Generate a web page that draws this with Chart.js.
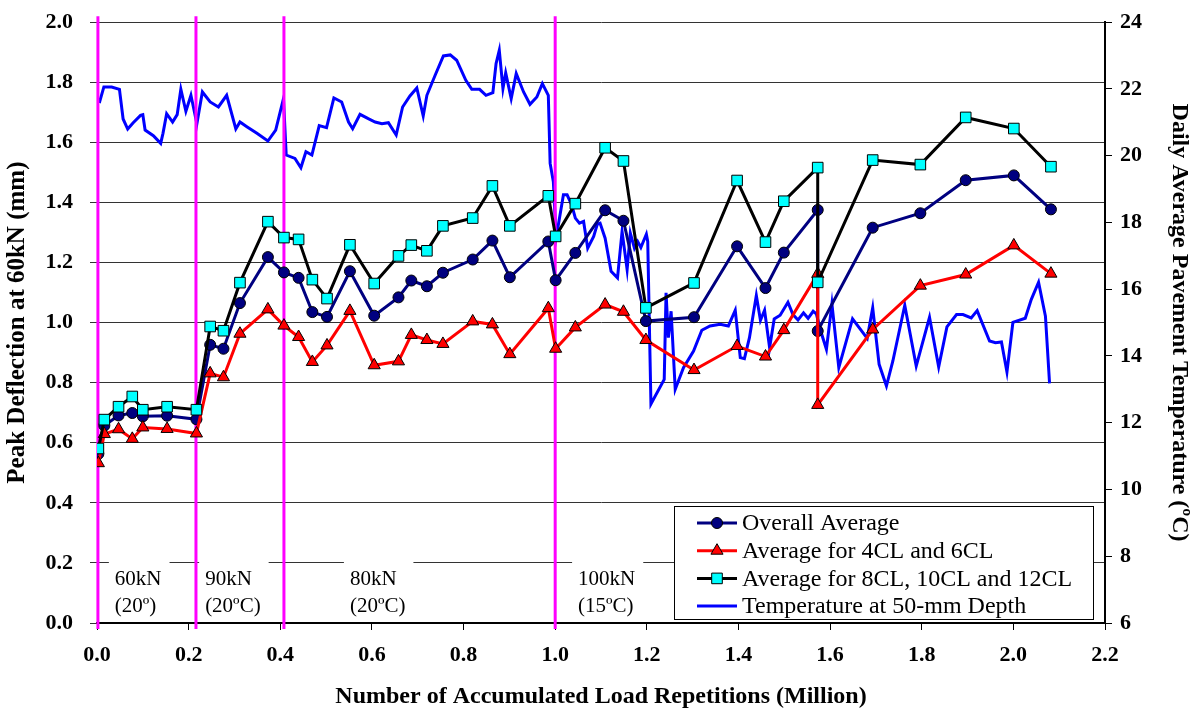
<!DOCTYPE html>
<html>
<head>
<meta charset="utf-8">
<title>Peak Deflection and Pavement Temperature</title>
<script src="https://cdn.jsdelivr.net/npm/chart.js@4.4.0/dist/chart.umd.min.js"></script>
<style>
  html, body { margin: 0; padding: 0; background: #fff; overflow: hidden; }
  #wrap { width: 1194px; height: 723px; position: absolute; left: 0; top: -8px; }
</style>
</head>
<body>
<div id="wrap"><canvas id="myChart"></canvas></div>
<script>
// load repetitions (million) at each deflection test
const loadReps = [0.003, 0.016, 0.047, 0.077, 0.100, 0.153, 0.217, 0.247, 0.276, 0.312, 0.373, 0.408, 0.440, 0.470, 0.502, 0.552, 0.605, 0.658, 0.686, 0.720, 0.755, 0.820, 0.863, 0.901, 0.985, 1.001, 1.044, 1.109, 1.149, 1.198, 1.303, 1.397, 1.459, 1.499, 1.573, 1.573, 1.693, 1.797, 1.896, 2.001, 2.082];
const overallAvg = [0.563, 0.657, 0.691, 0.699, 0.688, 0.690, 0.678, 0.926, 0.913, 1.065, 1.218, 1.167, 1.149, 1.035, 1.019, 1.171, 1.023, 1.084, 1.140, 1.121, 1.166, 1.210, 1.273, 1.151, 1.270, 1.141, 1.232, 1.374, 1.339, 1.005, 1.018, 1.254, 1.115, 1.233, 1.375, 0.972, 1.316, 1.364, 1.474, 1.490, 1.377];
const avg4and6 = [0.532, 0.629, 0.645, 0.613, 0.651, 0.646, 0.631, 0.831, 0.818, 0.963, 1.044, 0.990, 0.952, 0.869, 0.924, 1.039, 0.858, 0.871, 0.959, 0.942, 0.929, 1.004, 0.994, 0.895, 1.048, 0.913, 0.984, 1.060, 1.036, 0.942, 0.842, 0.922, 0.887, 0.975, 1.162, 0.726, 0.977, 1.123, 1.160, 1.257, 1.163];
const avg8to12 = [0.581, 0.677, 0.720, 0.754, 0.710, 0.720, 0.710, 0.987, 0.973, 1.133, 1.336, 1.283, 1.277, 1.143, 1.080, 1.259, 1.130, 1.222, 1.258, 1.239, 1.322, 1.348, 1.455, 1.322, 1.422, 1.287, 1.396, 1.582, 1.538, 1.049, 1.132, 1.473, 1.268, 1.404, 1.516, 1.134, 1.541, 1.526, 1.683, 1.646, 1.519];

// daily temperature at 50 mm depth
const tempReps = [0.005, 0.015, 0.032, 0.049, 0.057, 0.067, 0.079, 0.095, 0.100, 0.105, 0.123, 0.139, 0.144, 0.152, 0.165, 0.175, 0.183, 0.194, 0.205, 0.218, 0.230, 0.247, 0.265, 0.283, 0.303, 0.312, 0.327, 0.349, 0.373, 0.390, 0.407, 0.413, 0.432, 0.445, 0.456, 0.469, 0.485, 0.501, 0.517, 0.534, 0.549, 0.558, 0.574, 0.592, 0.607, 0.622, 0.636, 0.653, 0.667, 0.683, 0.698, 0.712, 0.720, 0.738, 0.756, 0.771, 0.785, 0.805, 0.818, 0.835, 0.849, 0.864, 0.871, 0.878, 0.886, 0.892, 0.904, 0.915, 0.931, 0.945, 0.960, 0.972, 0.985, 0.989, 0.996, 1.002, 1.018, 1.026, 1.036, 1.044, 1.053, 1.062, 1.071, 1.084, 1.092, 1.098, 1.109, 1.122, 1.136, 1.146, 1.157, 1.164, 1.173, 1.180, 1.187, 1.199, 1.202, 1.209, 1.238, 1.242, 1.247, 1.253, 1.262, 1.280, 1.302, 1.320, 1.338, 1.360, 1.378, 1.393, 1.404, 1.413, 1.424, 1.439, 1.448, 1.457, 1.468, 1.478, 1.491, 1.508, 1.519, 1.530, 1.542, 1.552, 1.563, 1.570, 1.579, 1.592, 1.604, 1.619, 1.649, 1.681, 1.693, 1.707, 1.723, 1.737, 1.763, 1.788, 1.797, 1.817, 1.837, 1.855, 1.876, 1.890, 1.908, 1.921, 1.948, 1.961, 1.974, 1.986, 1.999, 2.026, 2.039, 2.055, 2.070, 2.079];
const tempVals = [21.58, 22.06, 22.06, 21.99, 21.10, 20.80, 20.99, 21.21, 21.23, 20.77, 20.60, 20.37, 20.67, 21.26, 21.01, 21.23, 21.99, 21.33, 21.81, 20.96, 21.91, 21.61, 21.46, 21.81, 20.80, 21.01, 20.87, 20.67, 20.44, 20.77, 21.71, 20.02, 19.92, 19.64, 20.12, 20.02, 20.90, 20.84, 21.73, 21.61, 21.01, 20.81, 21.24, 21.11, 21.01, 20.96, 20.99, 20.62, 21.46, 21.79, 22.03, 21.19, 21.81, 22.41, 22.99, 23.02, 22.86, 22.26, 21.99, 21.99, 21.81, 21.89, 22.76, 23.16, 22.01, 22.48, 21.71, 22.46, 21.91, 21.54, 21.76, 22.16, 21.81, 19.77, 19.22, 17.53, 18.83, 18.83, 18.53, 18.13, 17.98, 18.03, 17.23, 17.58, 17.95, 17.98, 17.53, 16.54, 16.34, 17.73, 16.59, 17.68, 17.23, 17.43, 17.25, 17.65, 17.43, 12.56, 13.30, 15.89, 14.55, 15.34, 13.00, 13.65, 14.15, 14.77, 14.90, 14.95, 14.90, 15.37, 13.95, 13.92, 14.55, 15.81, 15.07, 15.37, 14.25, 15.11, 15.22, 15.61, 15.24, 15.08, 15.29, 15.13, 15.34, 15.26, 14.77, 14.20, 15.56, 13.65, 15.11, 14.53, 15.44, 13.75, 13.10, 13.85, 15.52, 13.70, 14.15, 15.16, 13.67, 14.87, 15.24, 15.24, 15.14, 15.36, 14.45, 14.40, 14.42, 13.52, 15.01, 15.13, 15.69, 16.21, 15.19, 13.18];

// load stage boundaries and their notes
const stageBounds = [0.002, 0.216, 0.408, 1.0];
const stageNoteX = [0.039, 0.236, 0.552, 1.050];
const stageLoad = ['60kN', '90kN', '80kN', '100kN'];
const stageTemp = ['(20º)', '(20ºC)', '(20ºC)', '(15ºC)'];

const legendNames = ['Overall Average', 'Average for 4CL and 6CL', 'Average for 8CL, 10CL and 12CL', 'Temperature at 50-mm Depth'];

const FONT = "'Liberation Serif', 'Times New Roman', serif";

function pairs(xs, ys) {
    return xs.map((x, i) => ({ x: x, y: ys[i] }));
}

const seriesStyle = [
    { line: '#000080', fill: '#000080', shape: 'circle', r: 5.5 },
    { line: '#FF0000', fill: '#FF0000', shape: 'triangle', r: 7 },
    { line: '#000000', fill: '#00FFFF', shape: 'rect', r: 7.5 },
    { line: '#0000FF', fill: null, shape: null, r: 0 }
];

function markerDataset(label, values, st) {
    return {
        label: label,
        data: pairs(loadReps, values),
        yAxisID: 'y',
        borderColor: st.line,
        borderWidth: 3,
        pointStyle: st.shape,
        pointRadius: st.r,
        pointBackgroundColor: st.fill,
        pointBorderColor: '#000',
        pointBorderWidth: 1,
        tension: 0
    };
}

const datasets = [];
// first dataset draws on top
datasets.push(markerDataset(legendNames[2], avg8to12, seriesStyle[2]));
datasets.push(markerDataset(legendNames[1], avg4and6, seriesStyle[1]));
datasets.push(markerDataset(legendNames[0], overallAvg, seriesStyle[0]));
stageBounds.forEach((b) => {
    datasets.push({
        label: 'stage',
        data: [{ x: b, y: -0.02 }, { x: b, y: 2.02 }],
        yAxisID: 'y',
        borderColor: '#FF00FF',
        borderWidth: 3,
        pointRadius: 0,
        clip: false
    });
});
datasets.push({
    label: legendNames[3],
    data: pairs(tempReps, tempVals),
    yAxisID: 'y2',
    borderColor: '#0000FF',
    borderWidth: 3,
    pointRadius: 0,
    tension: 0
});

function drawMarker(ctx, shape, x, y, r, fill) {
    ctx.beginPath();
    if (shape === 'circle') {
        ctx.arc(x, y, r, 0, Math.PI * 2);
    } else if (shape === 'triangle') {
        ctx.moveTo(x, y - r);
        ctx.lineTo(x + r * 0.866, y + r * 0.5);
        ctx.lineTo(x - r * 0.866, y + r * 0.5);
        ctx.closePath();
    } else {
        const s = r * 0.7071;
        ctx.rect(x - s, y - s, 2 * s, 2 * s);
    }
    ctx.fillStyle = fill;
    ctx.fill();
    ctx.lineWidth = 1;
    ctx.strokeStyle = '#000';
    ctx.stroke();
}

const stageNotes = {
    id: 'stageNotes',
    beforeDatasetsDraw(chart) {
        const ctx = chart.ctx;
        const xs = chart.scales.x;
        const bottom = chart.chartArea.bottom;
        ctx.save();
        ctx.font = '21px ' + FONT;
        ctx.textBaseline = 'middle';
        ctx.textAlign = 'left';
        stageNoteX.forEach((v, i) => {
            const left = xs.getPixelForValue(v);
            const w = Math.max(ctx.measureText(stageLoad[i]).width, ctx.measureText(stageTemp[i]).width);
            ctx.fillStyle = '#fff';
            ctx.fillRect(left - 6, bottom - 62, w + 14, 58);
            ctx.fillStyle = '#000';
            ctx.fillText(stageLoad[i], left, bottom - 44);
            ctx.fillText(stageTemp[i], left, bottom - 17);
        });
        ctx.restore();
    }
};

const boxLegend = {
    id: 'boxLegend',
    afterDraw(chart) {
        const ctx = chart.ctx;
        const area = chart.chartArea;
        const right = area.right - 12, bottom = area.bottom - 4;
        const w = 419, h = 113;
        const left = right - w, top = bottom - h;
        ctx.save();
        ctx.fillStyle = '#fff';
        ctx.fillRect(left, top, w, h);
        ctx.strokeStyle = '#000';
        ctx.lineWidth = 1;
        ctx.strokeRect(left + 0.5, top + 0.5, w, h);
        ctx.font = '24px ' + FONT;
        ctx.textBaseline = 'middle';
        ctx.textAlign = 'left';
        legendNames.forEach((name, i) => {
            const st = seriesStyle[i];
            const y = top + 17 + i * 27.7;
            const x0 = left + 23, x1 = left + 63;
            ctx.strokeStyle = st.line;
            ctx.lineWidth = 3;
            ctx.beginPath();
            ctx.moveTo(x0, y);
            ctx.lineTo(x1, y);
            ctx.stroke();
            if (st.shape) {
                drawMarker(ctx, st.shape, (x0 + x1) / 2, y, st.r, st.fill);
            }
            ctx.fillStyle = '#000';
            ctx.fillText(name, left + 68, y + 1);
        });
        ctx.restore();
    }
};

const tickFont = { family: FONT, size: 22, weight: 'bold' };

new Chart(document.getElementById('myChart'), {
    type: 'line',
    data: { datasets: datasets },
    plugins: [stageNotes, boxLegend],
    options: {
        responsive: true,
        maintainAspectRatio: false,
        animation: false,
        layout: { padding: { top: 12, left: 0, right: 0, bottom: 0 } },
        plugins: {
            legend: { display: false },
            tooltip: { enabled: false }
        },
        scales: {
            x: {
                type: 'linear',
                min: 0,
                max: 2.2,
                ticks: {
                    stepSize: 0.2,
                    autoSkip: false,
                    maxRotation: 0,
                    padding: 12,
                    color: '#000',
                    font: tickFont,
                    callback: (v) => v.toFixed(1)
                },
                grid: { drawOnChartArea: false, drawTicks: true, tickLength: 7, color: '#000' },
                border: { color: '#000', width: 2 },
                title: {
                    display: true,
                    text: 'Number of Accumulated Load Repetitions (Million)',
                    color: '#000',
                    font: { family: FONT, size: 24, weight: 'bold' },
                    padding: { top: 4, bottom: 4 }
                },
                afterFit: (s) => { s.height = 92; }
            },
            y: {
                position: 'left',
                min: 0,
                max: 2.0,
                ticks: {
                    stepSize: 0.2,
                    padding: 17,
                    color: '#000',
                    font: tickFont,
                    callback: (v) => v.toFixed(1)
                },
                grid: { color: '#333', lineWidth: 1, tickLength: 7 },
                border: { color: '#000', width: 1 },
                title: {
                    display: true,
                    text: 'Peak Deflection at 60kN (mm)',
                    color: '#000',
                    font: { family: FONT, size: 25, weight: 'bold' },
                    padding: { top: 3, bottom: 0 }
                },
                afterFit: (s) => { s.width = 97; }
            },
            y2: {
                position: 'right',
                min: 6,
                max: 24,
                ticks: {
                    stepSize: 2,
                    padding: 8,
                    color: '#000',
                    font: tickFont
                },
                grid: { drawOnChartArea: false, tickLength: 7, color: '#000' },
                border: { color: '#000', width: 2 },
                title: {
                    display: true,
                    text: 'Daily Average Pavement Temperature (ºC)',
                    color: '#000',
                    font: { family: FONT, size: 24, weight: 'bold' },
                    padding: { top: 0, bottom: 0 }
                },
                afterFit: (s) => { s.width = 89; }
            }
        }
    }
});
</script>
</body>
</html>
